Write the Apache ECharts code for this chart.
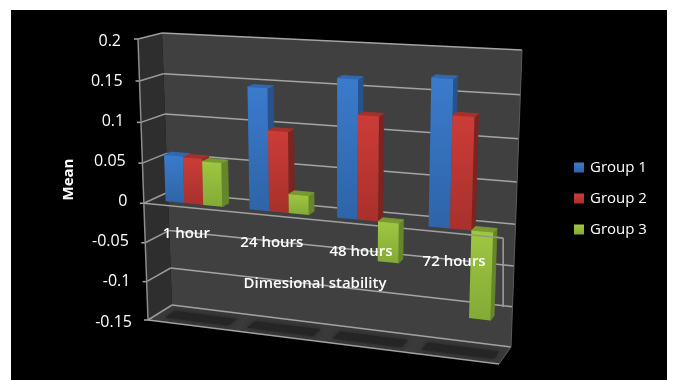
<!DOCTYPE html>
<html>
<head>
<meta charset="utf-8">
<script src="https://cdn.jsdelivr.net/npm/echarts@6/dist/echarts.min.js"></script>
<style>
  html, body { margin: 0; padding: 0; background: #fff; }
  #chart { width: 673px; height: 380px; }
</style>
</head>
<body>
<div id="chart"></div>
<script>
const categories = ['1 hour', '24 hours', '48 hours', '72 hours']
const group1 = [0.058, 0.148, 0.165, 0.172]
const group2 = [0.057, 0.098, 0.124, 0.131]
const group3 = [0.054, 0.023, -0.048, -0.105]
const yTicks = [-0.15, -0.1, -0.05, 0, 0.05, 0.1, 0.15, 0.2]
const FONT = '"Open Sans", sans-serif'

// plot box of the flat axes, warped afterwards into the 3D-looking walls
const GRID = { left: 148, top: 39, width: 334, height: 281 }
const FRONT = [[138, 39], [509, 60], [499, 364], [148, 320]]
const BACK = [[162, 33], [522, 50], [511, 347], [172, 305]]

function quad(p) {
  const [[x0, y0], [x1, y1], [x2, y2], [x3, y3]] = p
  const dx1 = x1 - x2, dx2 = x3 - x2, sx = x0 - x1 + x2 - x3
  const dy1 = y1 - y2, dy2 = y3 - y2, sy = y0 - y1 + y2 - y3
  const d = dx1 * dy2 - dx2 * dy1
  const g = (sx * dy2 - dx2 * sy) / d
  const h = (dx1 * sy - sx * dy1) / d
  const a = x1 - x0 + g * x1, b = x3 - x0 + h * x3
  const c = y1 - y0 + g * y1, e = y3 - y0 + h * y3
  return (u, v) => {
    const w = g * u + h * v + 1
    return [(a * u + b * v + x0) / w, (c * u + e * v + y0) / w]
  }
}
const frontAt = quad(FRONT)
const backAt = quad(BACK)

// pixel of the flat grid + depth (0 front, 1 back wall) -> screen
function warp(pt, depth) {
  const u = (pt[0] - GRID.left) / GRID.width
  const v = (pt[1] - GRID.top) / GRID.height
  const f = frontAt(u, v), b = backAt(u, v)
  return [f[0] + (b[0] - f[0]) * depth, f[1] + (b[1] - f[1]) * depth]
}

function poly(points, style) {
  return { type: 'polygon', shape: { points }, style }
}
function line(a, b, color, width) {
  return { type: 'line', shape: { x1: a[0], y1: a[1], x2: b[0], y2: b[1] }, style: { stroke: color, lineWidth: width || 1.5, fill: null } }
}
function vgrad(top, bottom) {
  return new echarts.graphic.LinearGradient(0, 0, 0, 1, [{ offset: 0, color: top }, { offset: 1, color: bottom }])
}

const BAR_W0 = 0.3
const BAR_W1 = 0.6
const GROUP_SPAN = 0.68

function renderFrame(params, api) {
  const size = api.size([1, 0])[0]
  const xL = GRID.left, xR = GRID.left + GRID.width
  const yAt = val => api.coord([0, val])[1]
  const top = yAt(0.2), bot = yAt(-0.15), zero = yAt(0)
  const children = [
    poly([warp([xL, top], 0), warp([xL, top], 1), warp([xL, bot], 1), warp([xL, bot], 0)], { fill: '#2e2e2e' }),
    poly([warp([xL, top], 1), warp([xR, top], 1), warp([xR, bot], 1), warp([xL, bot], 1)], { fill: '#404040' }),
    poly([warp([xL, bot], 0), warp([xL, bot], 1), warp([xR, bot], 1), warp([xR, bot], 0)], { fill: '#3a3a3a' })
  ]
  yTicks.forEach(t => {
    const y = yAt(t)
    const a = warp([xL, y], 0), b = warp([xL, y], 1), c = warp([xR, y], 1)
    children.push(line([a[0] - 4, a[1]], a, '#a8a8a8'))
    children.push(line(a, b, '#9a9a9a'))
    children.push(line(b, c, '#a4a4a4'))
  })
  // axis edges
  children.push(line(warp([xL, top], 0), warp([xL, bot], 0), '#8c8c8c'))
  children.push(line(warp([xR, top], 1), warp([xR, bot], 1), '#5c5c5c', 1))
  children.push(line(warp([xL, bot], 0), warp([xR, bot], 0), '#a4a4a4'))
  children.push(line(warp([xR, bot], 0), warp([xR, bot], 1), '#5c5c5c', 1))
  // category axis at zero, running round the bars
  const zr = warp([xR, zero], 0)
  const low = warp([xR, yAt(-0.1)], 1)
  children.push(line(warp([xL, zero], 0), zr, '#a0a0a0'))
  children.push(line(zr, [zr[0], low[1]], '#a0a0a0'))
  // bar shadows on the floor
  categories.forEach((c, i) => {
    const x = api.coord([i, 0])[0]
    const s = size * 0.39
    children.push(poly([
      warp([x - s + 2, bot], 0.25), warp([x + s + 2, bot], 0.25),
      warp([x + s + 2, bot], 0.68), warp([x - s + 2, bot], 0.68)
    ], { fill: '#252525', shadowBlur: 5, shadowColor: '#252525' }))
  })
  return { type: 'group', children }
}

function barRenderer(groupIndex, colors) {
  return function (params, api) {
    const size = api.size([1, 0])[0]
    const barW = size * GROUP_SPAN / 3
    const center = api.coord([api.value(0), 0])[0] + 1.5
    const x0 = center - size * GROUP_SPAN / 2 + barW * groupIndex
    const x1 = x0 + barW
    const yVal = api.coord([0, api.value(1)])[1]
    const yZero = api.coord([0, 0])[1]
    const yT = Math.min(yVal, yZero), yB = Math.max(yVal, yZero)
    const f = (x, y) => warp([x, y], BAR_W0)
    const b = (x, y) => warp([x, y], BAR_W1)
    return {
      type: 'group',
      children: [
        poly([f(x1, yT), b(x1, yT), b(x1, yB), f(x1, yB)], { fill: colors.side, stroke: colors.side, lineWidth: 0.8, lineJoin: 'round' }),
        poly([f(x0, yT), f(x1, yT), b(x1, yT), b(x0, yT)], { fill: colors.top, stroke: colors.top, lineWidth: 0.8, lineJoin: 'round' }),
        poly([f(x0, yT), f(x1, yT), f(x1, yB), f(x0, yB)], { fill: vgrad(colors.light, colors.dark) })
      ]
    }
  }
}

// the piece of the zero line that sits on top of the last bar
function renderOverlay(params, api) {
  const size = api.size([1, 0])[0]
  const zero = api.coord([0, 0])[1]
  const x = api.coord([3, 0])[0] + size * GROUP_SPAN * 0.22
  return line(warp([x, zero], 0), warp([GRID.left + GRID.width, zero], 0), '#8f9a80')
}

function renderCategory(params, api) {
  const i = api.value(0)
  const pos = warp(api.coord([i, -0.033]), 0)
  return {
    type: 'text',
    style: { x: pos[0], y: pos[1], text: categories[i], fill: '#fff', font: '600 15px ' + FONT, align: 'center', verticalAlign: 'middle' }
  }
}

const palette = [
  { light: '#3b7bcc', dark: '#2e64a8', side: '#27528c', top: '#2f69b5' },
  { light: '#cc3c38', dark: '#a8302c', side: '#7d2320', top: '#a8302b' },
  { light: '#9fc741', dark: '#83aa36', side: '#668729', top: '#7a9a30' }
]
const groupNames = ['Group 1', 'Group 2', 'Group 3']
const groupValues = [group1, group2, group3]

const tickRich = {}
yTicks.forEach((t, i) => {
  tickRich['t' + i] = { color: '#fff', fontSize: 16, fontFamily: FONT, padding: [4, (i * 11) / 7, 0, 0] }
})

const myChart = echarts.init(document.getElementById('chart'), null, { renderer: 'canvas' })
myChart.setOption({
  animation: false,
  backgroundColor: '#fff',
  graphic: [{
    type: 'rect', z: -10, silent: true,
    shape: { x: 11, y: 10, width: 656, height: 370 },
    style: { fill: '#000' }
  }],
  grid: GRID,
  legend: {
    orient: 'vertical',
    left: 569,
    top: 155,
    icon: 'rect',
    itemWidth: 10,
    itemHeight: 10,
    itemGap: 16,
    data: groupNames,
    textStyle: { color: '#fff', fontSize: 15, fontFamily: FONT, padding: [0, 0, 0, 1] }
  },
  xAxis: {
    type: 'category',
    z: 10,
    data: categories,
    name: 'Dimesional stability',
    nameLocation: 'middle',
    nameGap: -44,
    nameTextStyle: { color: '#fff', fontSize: 15, fontWeight: 600, fontFamily: FONT },
    axisLine: { show: false },
    axisTick: { show: false },
    axisLabel: { show: false }
  },
  yAxis: {
    type: 'value',
    min: -0.15,
    max: 0.2,
    interval: 0.05,
    name: 'Mean',
    nameLocation: 'middle',
    nameGap: 72,
    nameTextStyle: { color: '#fff', fontSize: 15, fontWeight: 'bold', fontFamily: FONT },
    axisLine: { show: false },
    axisTick: { show: false },
    splitLine: { show: false },
    axisLabel: {
      margin: 16,
      formatter: (value, index) => '{t' + index + '|' + yTicks[index] + '}',
      rich: tickRich
    }
  },
  series: [
    { type: 'custom', name: 'frame', silent: true, z: 1, renderItem: renderFrame, data: [[0, 0]] },
    ...groupNames.map((name, g) => ({
      type: 'custom',
      name,
      z: 2 + g,
      renderItem: barRenderer(g, palette[g]),
      itemStyle: { color: vgrad(palette[g].light, palette[g].dark) },
      data: groupValues[g].map((v, i) => [i, v])
    })),
    { type: 'custom', name: 'overlay', silent: true, z: 5, renderItem: renderOverlay, data: [[0, 0]] },
    { type: 'custom', name: 'labels', silent: true, z: 6, renderItem: renderCategory, data: categories.map((c, i) => [i, 0]) }
  ]
})
</script>
</body>
</html>
